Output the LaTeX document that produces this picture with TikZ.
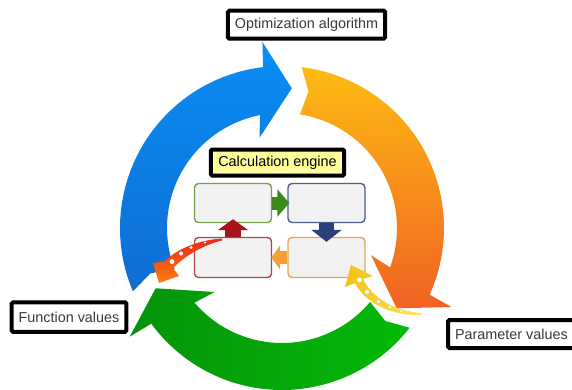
\documentclass[tikz,border=0pt]{standalone}
\usepackage{fontspec}
\setmainfont{Liberation Sans}
\usetikzlibrary{arrows.meta,calc}
\definecolor{bluetop}{HTML}{0A8EF6}
\definecolor{bluebot}{HTML}{0E6DD3}
\definecolor{orgtop}{HTML}{FDBB12}
\definecolor{orgbot}{HTML}{F16223}
\definecolor{grnleft}{HTML}{05930A}
\definecolor{grnright}{HTML}{05BA08}
\definecolor{labelgray}{HTML}{3A3A3A}
\definecolor{engyellow}{HTML}{FDFD9C}
\definecolor{boxfill}{HTML}{F2F2F2}
\definecolor{gbord}{HTML}{76A04A}
\definecolor{nbord}{HTML}{4C5C8C}
\definecolor{rbord}{HTML}{B0464A}
\definecolor{obord}{HTML}{F0A355}
\definecolor{garrow}{HTML}{3B8A1C}
\definecolor{narrow}{HTML}{2B3F78}
\definecolor{oarrow}{HTML}{F4A034}
\definecolor{rarrow}{HTML}{A8141A}
\definecolor{redtop}{HTML}{E62A18}
\definecolor{redbot}{HTML}{FF7E12}
\definecolor{yelhead}{HTML}{F4C10F}
\definecolor{yeltail}{HTML}{FDE370}
\newcommand\ringarrow[3]{%
  \shade[#3] (#1:162) arc[start angle=#1, end angle={#2-10.7}, radius=162]
    -- ({#2-10}:187) -- (#2:140) -- ({#2-18}:93) -- ({#2-15}:115)
    arc[start angle={#2-15}, end angle={#1+2}, radius=115]
    -- ({#1+4}:139) -- cycle;}
\begin{document}
\begin{tikzpicture}[x=1pt,y=-1pt,
  lbl/.style={draw=black, line width=4pt, fill=white, rounded corners=1.5pt,
    text=labelgray, inner xsep=7pt, inner ysep=0pt, minimum height=28pt,
    font=\fontsize{14.4}{17}\selectfont},
  engbox/.style={rounded corners=4pt, line width=1.4pt, fill=boxfill,
    minimum width=77pt, minimum height=39pt, inner sep=0pt},
  dot/.style={fill=white, draw=none}]
\useasboundingbox (0,0) rectangle (572,389);
\clip (0,0) rectangle (572,389);
% ring arrows
\begin{scope}[shift={(282,228)}]
  \ringarrow{157}{274}{top color=bluetop, bottom color=bluebot}
  \ringarrow{277}{395}{top color=orgtop, bottom color=orgbot}
  \ringarrow{38}{154.5}{left color=grnleft, right color=grnright}
\end{scope}
% labels
\node[lbl] (opt) at (306.5,24.7) {Optimization algorithm};
\node[lbl, minimum height=29.5pt] (fv) at (69,317) {Function values};
\node[lbl, anchor=west] (pv) at (446,334) {Parameter values};
\node[lbl, fill=engyellow, text=black, minimum height=26pt, inner xsep=7.5pt] (ce) at (277.5,162.5) {Calculation engine};
% engine boxes
\node[engbox, draw=gbord] (tl) at (233,203) {};
\node[engbox, draw=nbord] (tr) at (326.5,203) {};
\node[engbox, draw=rbord, minimum height=40pt] (bl) at (233,257.5) {};
\node[engbox, draw=obord, minimum height=40pt] (br) at (326.5,257.5) {};
% block arrows
\draw[line width=13pt, draw=garrow, -{Triangle[width=27pt,length=12pt]}] (tl.east) -- ($(tr.west)+(2,0)$);
\draw[line width=15pt, draw=narrow, -{Triangle[width=30pt,length=12pt]}] (tr.south) -- ($(br.north)+(0,5)$);
\draw[line width=13pt, draw=oarrow, -{Triangle[width=24pt,length=9pt]}] (br.west) -- ($(bl.east)+(-1,0)$);
\draw[line width=16pt, draw=rarrow, -{Triangle[width=30pt,length=11pt]}] (bl.north) -- ($(tl.south)+(0,-4)$);
% curved red arrow
\shade[top color=redtop, bottom color=redbot]
  (222,238.5) .. controls (200,240) and (178,248) .. (165,261)
  -- (153,263) -- (159,283) -- (179,276) -- (173,268)
  .. controls (185,256) and (203,245) .. (222,240.5) -- cycle;
\fill[dot] (205,242.5) circle (1.1);
\fill[dot] (191,247.5) circle (1.6);
\fill[dot] (181,253.5) circle (2);
\fill[dot] (172,261.5) circle (2.4);
% curved yellow arrow
\shade[left color=yelhead, right color=yeltail]
  (421,313) .. controls (395,311) and (372,298) .. (363,279)
  -- (373,276) -- (351,265) -- (345,287) -- (355,283)
  .. controls (365,303) and (392,316) .. (421,315) -- cycle;
\fill[dot] (359.5,280) circle (2.5);
\fill[dot] (367,292) circle (2.1);
\fill[dot] (378.5,301.5) circle (1.7);
\fill[dot] (390,307) circle (1.3);
\fill[dot] (401,311) circle (1);
\end{tikzpicture}
\end{document}
